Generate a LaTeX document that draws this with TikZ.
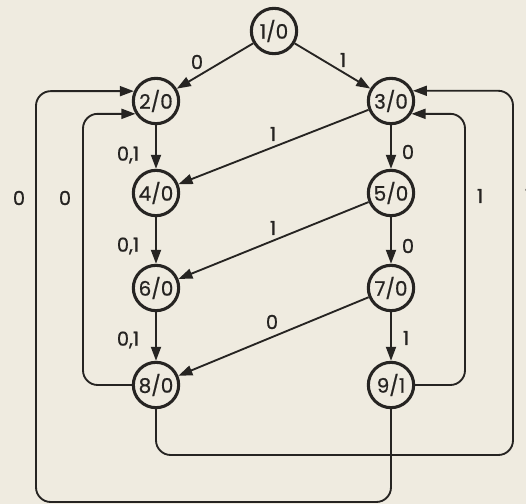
\documentclass[tikz,border=0pt]{standalone}
\usepackage{fontspec}
\setmainfont{Poppins}
\newfontfamily\diagfont{Poppins}[FakeBold=0.7]
\usetikzlibrary{arrows.meta}
\definecolor{paper}{RGB}{239,235,224}
\definecolor{ink}{RGB}{38,36,34}
\begin{document}
\begin{tikzpicture}[x=0.75pt,y=-0.75pt,
  state/.style={circle,draw=ink,line width=2.3pt,minimum size=34pt,inner sep=0pt,font=\diagfont\fontsize{15}{17}\selectfont,text=ink},
  conn/.style={draw=ink,line width=1.4pt,-{Triangle[length=10.5pt,width=7.5pt]}},
  loopconn/.style={conn,rounded corners=11pt},
  lbl/.style={text=ink,font=\diagfont\fontsize{14.5}{16}\selectfont,inner sep=0pt}]
\fill[paper] (0,0) rectangle (526,504);
\useasboundingbox (0,0) rectangle (526,504);
% states
\node[state] (n1) at (274,31) {1/0};
\node[state] (n2) at (156,101) {2/0};
\node[state] (n3) at (391,101) {3/0};
\node[state] (n4) at (156,193) {4/0};
\node[state] (n5) at (391,193) {5/0};
\node[state] (n6) at (156,288) {6/0};
\node[state] (n7) at (391,288) {7/0};
\node[state] (n8) at (156,385) {8/0};
\node[state] (n9) at (391,385) {9/1};
% corner coordinates for the loops
\coordinate (xLo) at (36,0);
\coordinate (xLi) at (83,0);
\coordinate (xRi) at (465,0);
\coordinate (xRo) at (513,0);
\coordinate (yBi) at (0,455);
\coordinate (yBo) at (0,502);
% straight transitions
\draw[conn] (n1) -- (n2) node[lbl] at (197,62) {0};
\draw[conn] (n1) -- (n3) node[lbl] at (343,60) {1};
\draw[conn] (n2) -- (n4) node[lbl] at (128,155) {0,1};
\draw[conn] (n3) -- (n4) node[lbl] at (273,134) {1};
\draw[conn] (n3) -- (n5) node[lbl] at (408,152) {0};
\draw[conn] (n4) -- (n6) node[lbl] at (128,246) {0,1};
\draw[conn] (n5) -- (n6) node[lbl] at (273,228) {1};
\draw[conn] (n5) -- (n7) node[lbl] at (408,246) {0};
\draw[conn] (n6) -- (n8) node[lbl] at (128,340) {0,1};
\draw[conn] (n7) -- (n8) node[lbl] at (272,322) {0};
\draw[conn] (n7) -- (n9) node[lbl] at (406,338) {1};
% feedback loops
\draw[loopconn] (n8.west) -- (xLi |- n8.west) -- (xLi |- n2.212) -- (n2.212)
  node[lbl] at (65,198) {0};
\draw[loopconn] (n9.south) -- (n9.south |- yBo) -- (xLo |- yBo) -- (xLo |- n2.156) -- (n2.156)
  node[lbl] at (19,198) {0};
\draw[loopconn] (n9.east) -- (xRi |- n9.east) -- (xRi |- n3.328) -- (n3.328)
  node[lbl] at (480,196) {1};
\draw[loopconn] (n8.south) -- (n8.south |- yBi) -- (xRo |- yBi) -- (xRo |- n3.25) -- (n3.25)
  node[lbl] at (528,196) {1};
\end{tikzpicture}
\end{document}
